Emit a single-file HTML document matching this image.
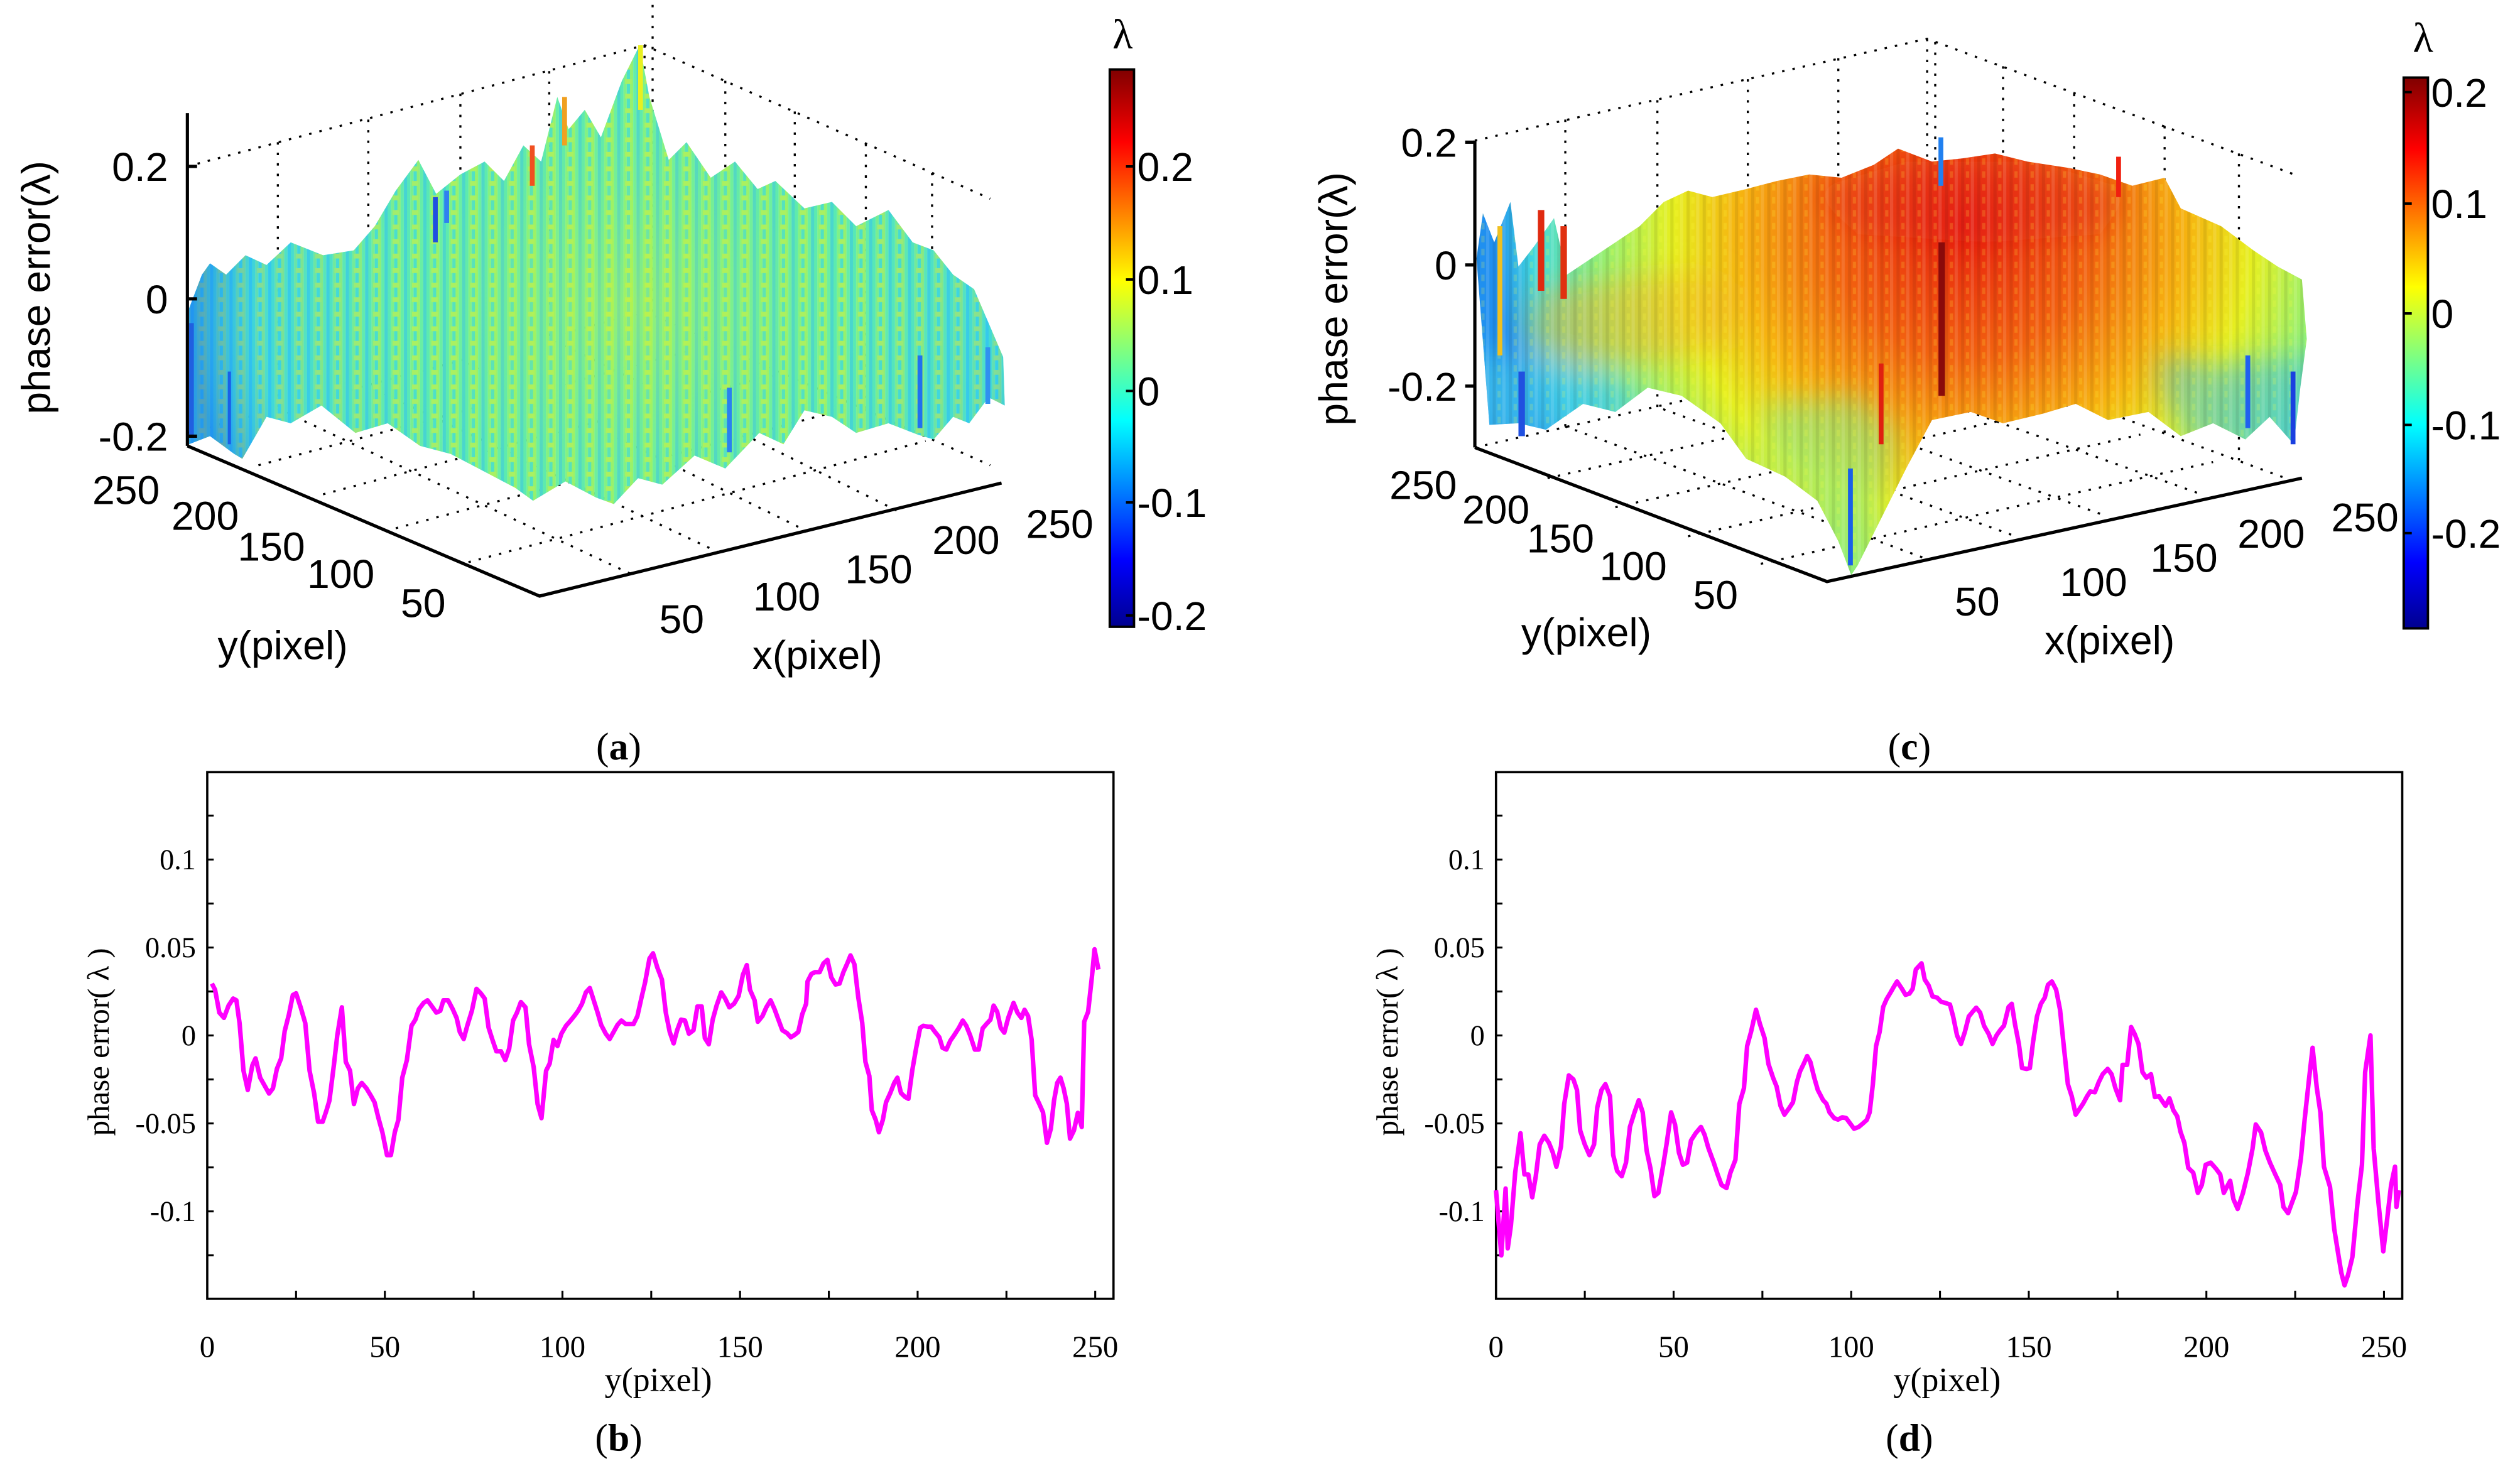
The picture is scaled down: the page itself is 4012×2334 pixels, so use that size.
<!DOCTYPE html>
<html><head><meta charset="utf-8">
<style>
html,body{margin:0;padding:0;background:#fff;}
svg{display:block;}
.sans{font-family:"Liberation Sans",sans-serif;}
.serif{font-family:"Liberation Serif",serif;}
</style></head>
<body>
<svg id="fig" width="4012" height="2334" viewBox="0 0 1560 907.5" xmlns="http://www.w3.org/2000/svg">
<defs>
  <linearGradient id="jet" x1="0" y1="1" x2="0" y2="0">
    <stop offset="0" stop-color="#00008f"/>
    <stop offset="0.12" stop-color="#0000ff"/>
    <stop offset="0.37" stop-color="#00ffff"/>
    <stop offset="0.62" stop-color="#ffff00"/>
    <stop offset="0.87" stop-color="#ff0000"/>
    <stop offset="1" stop-color="#800000"/>
  </linearGradient>
  <pattern id="stripesA" width="12" height="9" patternUnits="userSpaceOnUse">
    <rect x="0" y="0" width="2" height="9" fill="#4fe6c4"/>
    <rect x="2" y="0" width="2" height="9" fill="#86f283"/>
    <rect x="4" y="0" width="2" height="9" fill="#3cd8e4"/>
    <rect x="6" y="0" width="2" height="9" fill="#a9f25c"/>
    <rect x="8" y="0" width="2" height="9" fill="#62eeb0"/>
    <rect x="10" y="0" width="2" height="9" fill="#35c8ee"/>
    <rect x="3" y="4" width="4" height="3" fill="#c8f04a"/>
  </pattern>
  <radialGradient id="radA" gradientUnits="userSpaceOnUse" cx="390" cy="190" r="270">
    <stop offset="0" stop-color="#b4f24c" stop-opacity="0.6"/>
    <stop offset="0.5" stop-color="#70f090" stop-opacity="0.35"/>
    <stop offset="0.85" stop-color="#30c8f0" stop-opacity="0.45"/>
    <stop offset="1" stop-color="#1a80f0" stop-opacity="0.7"/>
  </radialGradient>
  <radialGradient id="radC" gradientUnits="userSpaceOnUse" cx="1215" cy="140" r="290">
    <stop offset="0" stop-color="#e8200e"/>
    <stop offset="0.28" stop-color="#f2620f"/>
    <stop offset="0.48" stop-color="#f6b410"/>
    <stop offset="0.62" stop-color="#e6ef20"/>
    <stop offset="0.78" stop-color="#8ef07a"/>
    <stop offset="0.92" stop-color="#40d8e0"/>
    <stop offset="1" stop-color="#2090f0"/>
  </radialGradient>
  <pattern id="stripesC" width="10" height="8" patternUnits="userSpaceOnUse">
    <rect x="0" y="0" width="2" height="8" fill="#ffffff" opacity="0.12"/>
    <rect x="4" y="0" width="2" height="8" fill="#000000" opacity="0.08"/>
    <rect x="7" y="2" width="2" height="4" fill="#ffff40" opacity="0.18"/>
  </pattern>
  <clipPath id="clipC">
    <polygon points="914,160 918,132 925,150 935,125 940,165 950,152 962,135 970,170 985,160 1000,150 1015,140 1030,125 1045,118 1060,122 1081,117 1100,112 1120,108 1140,110 1160,102 1175,92 1196,100 1215,98 1235,95 1255,100 1281,104 1300,108 1320,115 1340,110 1350,129 1375,140 1395,155 1410,165 1425,173 1428,210 1424,240 1420,275 1405,258 1390,272 1370,262 1350,270 1330,255 1305,260 1285,250 1265,256 1240,262 1220,255 1196,260 1180,290 1165,320 1150,350 1146,356 1138,335 1125,310 1105,295 1081,284 1065,262 1041,245 1020,240 1000,255 980,250 957,266 940,262 922,263"/>
  </clipPath>
  <filter id="blurC" x="-20%" y="-20%" width="140%" height="140%"><feGaussianBlur stdDeviation="9"/></filter>
</defs>

<!-- ===== Panel (a) ===== -->
<g id="panel-a">
  <g stroke="#000" stroke-width="1.3" stroke-dasharray="1.5,5" fill="none">
    <polyline points="116,103 399,28 613,123"/>
    <polyline points="116,268 399,193 613,288"/>
    <line x1="172" y1="88" x2="172" y2="253"/><line x1="228" y1="74" x2="228" y2="239"/>
    <line x1="285" y1="58" x2="285" y2="223"/><line x1="340" y1="44" x2="340" y2="209"/>
    <line x1="399" y1="28" x2="399" y2="193"/><line x1="404" y1="3" x2="404" y2="193"/>
    <line x1="449" y1="50" x2="449" y2="215"/><line x1="492" y1="69" x2="492" y2="234"/>
    <line x1="536" y1="89" x2="536" y2="254"/><line x1="577" y1="107" x2="577" y2="272"/>
    <line x1="160" y1="288" x2="443" y2="213"/><line x1="200" y1="306" x2="483" y2="231"/>
    <line x1="245" y1="327" x2="528" y2="252"/><line x1="290" y1="348" x2="573" y2="273"/>
    <line x1="390" y1="355" x2="172" y2="253"/><line x1="445" y1="342" x2="228" y2="239"/>
    <line x1="500" y1="329" x2="285" y2="223"/><line x1="555" y1="316" x2="340" y2="209"/>
  </g>
  <polygon fill="url(#stripesA)" points="117,191 125,170 130,163 140,170 152,158 165,164 180,150 200,158 219,155 232,140 245,118 259,99 270,120 285,108 300,100 312,112 324,90 335,100 345,60 352,80 362,68 372,85 385,50 396,28 402,60 414,99 425,88 440,110 455,100 469,117 480,112 498,129 515,125 530,140 550,130 565,150 578,155 590,170 603,179 612,200 621,221 622,251 612,246 600,262 590,258 578,272 568,269 550,262 530,268 515,258 498,254 485,275 470,268 449,290 430,282 410,300 395,296 380,312 369,308 350,298 330,310 319,302 300,292 279,281 260,276 240,262 220,268 199,251 180,262 165,258 150,284 145,281 130,270 117,275"/>
  <polygon fill="url(#radA)" points="117,191 125,170 130,163 140,170 152,158 165,164 180,150 200,158 219,155 232,140 245,118 259,99 270,120 285,108 300,100 312,112 324,90 335,100 345,60 352,80 362,68 372,85 385,50 396,28 402,60 414,99 425,88 440,110 455,100 469,117 480,112 498,129 515,125 530,140 550,130 565,150 578,155 590,170 603,179 612,200 621,221 622,251 612,246 600,262 590,258 578,272 568,269 550,262 530,268 515,258 498,254 485,275 470,268 449,290 430,282 410,300 395,296 380,312 369,308 350,298 330,310 319,302 300,292 279,281 260,276 240,262 220,268 199,251 180,262 165,258 150,284 145,281 130,270 117,275"/>
  <g>
    <rect x="395" y="28" width="3" height="40" fill="#e8f020"/>
    <rect x="348" y="60" width="3" height="30" fill="#f0a020"/>
    <rect x="328" y="90" width="3" height="25" fill="#f05020"/>
    <rect x="268" y="122" width="3" height="28" fill="#2050e0"/>
    <rect x="275" y="118" width="3" height="20" fill="#3080f0"/>
    <rect x="117" y="200" width="3" height="70" fill="#2060e0"/>
    <rect x="141" y="230" width="2" height="45" fill="#1a60e8"/>
    <rect x="568" y="220" width="3" height="45" fill="#2070f0"/>
    <rect x="450" y="240" width="3" height="40" fill="#2a80f0"/>
    <rect x="610" y="215" width="3" height="35" fill="#3090f0"/>
  </g>
  <g stroke="#000" stroke-width="2" fill="none">
    <line x1="116" y1="70" x2="116" y2="276"/>
    <polyline points="116,276 334,369 620,299"/>
    <line x1="116" y1="103" x2="122" y2="103"/><line x1="116" y1="185" x2="122" y2="185"/><line x1="116" y1="270" x2="122" y2="270"/>
  </g>
  <g class="sans" font-size="25" fill="#000">
    <text x="104" y="112" text-anchor="end">0.2</text>
    <text x="104" y="194" text-anchor="end">0</text>
    <text x="104" y="279" text-anchor="end">-0.2</text>
    <text transform="translate(31,178) rotate(-90)" text-anchor="middle">phase error(λ)</text>
    <text x="78" y="312" text-anchor="middle">250</text>
    <text x="127" y="328" text-anchor="middle">200</text>
    <text x="168" y="347" text-anchor="middle">150</text>
    <text x="211" y="364" text-anchor="middle">100</text>
    <text x="262" y="382" text-anchor="middle">50</text>
    <text x="175" y="408" text-anchor="middle">y(pixel)</text>
    <text x="422" y="392" text-anchor="middle">50</text>
    <text x="487" y="378" text-anchor="middle">100</text>
    <text x="544" y="361" text-anchor="middle">150</text>
    <text x="598" y="343" text-anchor="middle">200</text>
    <text x="656" y="333" text-anchor="middle">250</text>
    <text x="506" y="414" text-anchor="middle">x(pixel)</text>
  </g>
  <g>
    <rect x="687" y="43" width="15" height="345" fill="url(#jet)" stroke="#000" stroke-width="1.5"/>
    <g stroke="#000" stroke-width="1.5">
      <line x1="697" y1="103" x2="702" y2="103"/><line x1="697" y1="173" x2="702" y2="173"/>
      <line x1="697" y1="242" x2="702" y2="242"/><line x1="697" y1="311" x2="702" y2="311"/><line x1="697" y1="381" x2="702" y2="381"/>
    </g>
    <g class="sans" font-size="25">
      <text x="704" y="112">0.2</text><text x="704" y="182">0.1</text><text x="704" y="251">0</text>
      <text x="704" y="320">-0.1</text><text x="704" y="390">-0.2</text>
    </g>
    <text x="695" y="30" class="serif" font-size="26" text-anchor="middle">λ</text>
  </g>
  <text x="383" y="470" class="serif" font-size="24" text-anchor="middle">(<tspan font-weight="bold">a</tspan>)</text>
</g>

<!-- ===== Panel (c) ===== -->
<g id="panel-c">
  <g stroke="#000" stroke-width="1.3" stroke-dasharray="1.5,5" fill="none">
    <polyline points="913,87 1193,24 1423,109"/>
    <polyline points="913,277 1193,214 1423,299"/>
    <line x1="969" y1="74" x2="969" y2="264"/><line x1="1026" y1="62" x2="1026" y2="252"/>
    <line x1="1082" y1="49" x2="1082" y2="239"/><line x1="1138" y1="36" x2="1138" y2="226"/>
    <line x1="1193" y1="24" x2="1193" y2="214"/><line x1="1198" y1="26" x2="1198" y2="216"/>
    <line x1="1240" y1="41" x2="1240" y2="231"/><line x1="1284" y1="58" x2="1284" y2="248"/>
    <line x1="1340" y1="78" x2="1340" y2="268"/><line x1="1386" y1="95" x2="1386" y2="285"/>
    <line x1="958" y1="296" x2="1238" y2="233"/><line x1="1000" y1="314" x2="1280" y2="251"/>
    <line x1="1045" y1="332" x2="1325" y2="269"/><line x1="1090" y1="349" x2="1370" y2="286"/>
    <line x1="1190" y1="345" x2="969" y2="264"/><line x1="1245" y1="331" x2="1026" y2="252"/>
    <line x1="1300" y1="318" x2="1082" y2="239"/><line x1="1360" y1="305" x2="1138" y2="226"/>
  </g>
  <polygon fill="url(#radC)" points="914,160 918,132 925,150 935,125 940,165 950,152 962,135 970,170 985,160 1000,150 1015,140 1030,125 1045,118 1060,122 1081,117 1100,112 1120,108 1140,110 1160,102 1175,92 1196,100 1215,98 1235,95 1255,100 1281,104 1300,108 1320,115 1340,110 1350,129 1375,140 1395,155 1410,165 1425,173 1428,210 1424,240 1420,275 1405,258 1390,272 1370,262 1350,270 1330,255 1305,260 1285,250 1265,256 1240,262 1220,255 1196,260 1180,290 1165,320 1150,350 1146,356 1138,335 1125,310 1105,295 1081,284 1065,262 1041,245 1020,240 1000,255 980,250 957,266 940,262 922,263"/>
  <g clip-path="url(#clipC)">
    <g filter="url(#blurC)">
      <polygon fill="#f4b020" opacity="0.5" points="950,180 1000,172 1050,168 1080,180 1070,215 1020,225 970,228 945,215"/>
      <polygon fill="#40c8e8" opacity="0.65" points="905,215 960,225 1000,235 1020,250 990,265 960,275 920,275 905,250"/>
      <polygon fill="#30b8f0" opacity="0.5" points="1335,220 1370,225 1435,220 1435,280 1390,280 1350,270 1340,245"/>
      <polygon fill="#80e890" opacity="0.55" points="1090,250 1150,245 1175,270 1160,320 1146,360 1120,305 1095,285"/>
      <polygon fill="#e01a10" opacity="0.35" points="1120,118 1180,100 1260,100 1320,118 1300,145 1230,150 1150,145"/>
    </g>
    <polygon fill="url(#stripesC)" points="900,80 1440,80 1440,370 900,370"/>
  </g>
  <g>
    <rect x="1200" y="150" width="4" height="95" fill="#8a0a0a"/>
    <rect x="952" y="130" width="4" height="50" fill="#e02a10"/>
    <rect x="966" y="140" width="4" height="45" fill="#e03010"/>
    <rect x="927" y="140" width="3" height="80" fill="#f0c020"/>
    <rect x="1200" y="85" width="3" height="30" fill="#2080f0"/>
    <rect x="1163" y="225" width="3" height="50" fill="#e02010"/>
    <rect x="1144" y="290" width="3" height="60" fill="#1a60e8"/>
    <rect x="1418" y="230" width="3" height="45" fill="#1a40e0"/>
    <rect x="1390" y="220" width="3" height="45" fill="#2060f0"/>
    <rect x="1310" y="97" width="3" height="25" fill="#f02010"/>
    <rect x="940" y="230" width="4" height="40" fill="#2050e0"/>
  </g>
  <g stroke="#000" stroke-width="2" fill="none">
    <line x1="913" y1="87" x2="913" y2="277"/>
    <polyline points="913,277 1131,360 1425,296"/>
    <line x1="907" y1="88" x2="913" y2="88"/><line x1="907" y1="164" x2="913" y2="164"/><line x1="907" y1="239" x2="913" y2="239"/>
  </g>
  <g class="sans" font-size="25" fill="#000">
    <text x="902" y="97" text-anchor="end">0.2</text>
    <text x="902" y="173" text-anchor="end">0</text>
    <text x="902" y="248" text-anchor="end">-0.2</text>
    <text transform="translate(834,185) rotate(-90)" text-anchor="middle">phase error(λ)</text>
    <text x="881" y="309" text-anchor="middle">250</text>
    <text x="926" y="324" text-anchor="middle">200</text>
    <text x="966" y="342" text-anchor="middle">150</text>
    <text x="1011" y="359" text-anchor="middle">100</text>
    <text x="1062" y="377" text-anchor="middle">50</text>
    <text x="982" y="400" text-anchor="middle">y(pixel)</text>
    <text x="1224" y="381" text-anchor="middle">50</text>
    <text x="1296" y="369" text-anchor="middle">100</text>
    <text x="1352" y="354" text-anchor="middle">150</text>
    <text x="1406" y="339" text-anchor="middle">200</text>
    <text x="1464" y="329" text-anchor="middle">250</text>
    <text x="1306" y="405" text-anchor="middle">x(pixel)</text>
  </g>
  <g>
    <rect x="1488" y="48" width="15" height="341" fill="url(#jet)" stroke="#000" stroke-width="1.5"/>
    <g stroke="#000" stroke-width="1.5">
      <line x1="1488" y1="57" x2="1493" y2="57"/><line x1="1488" y1="126" x2="1493" y2="126"/>
      <line x1="1488" y1="194" x2="1493" y2="194"/><line x1="1488" y1="263" x2="1493" y2="263"/><line x1="1488" y1="330" x2="1493" y2="330"/>
    </g>
    <g class="sans" font-size="25">
      <text x="1505" y="66">0.2</text><text x="1505" y="135">0.1</text><text x="1505" y="203">0</text>
      <text x="1505" y="272">-0.1</text><text x="1505" y="339">-0.2</text>
    </g>
    <text x="1500" y="32" class="serif" font-size="26" text-anchor="middle">λ</text>
  </g>
  <text x="1182" y="470" class="serif" font-size="24" text-anchor="middle">(<tspan font-weight="bold">c</tspan>)</text>
</g>

<g id="chart-b"></g>
<g id="chart-d"></g>
<text x="383" y="898" class="serif" font-size="24" text-anchor="middle">(<tspan font-weight="bold">b</tspan>)</text>
<text x="1182" y="898" class="serif" font-size="24" text-anchor="middle">(<tspan font-weight="bold">d</tspan>)</text>
</svg>

<script>
var xTicks = [0, 50, 100, 150, 200, 250];
var xTickLabels = ["0", "50", "100", "150", "200", "250"];
var yTicks = [0.1, 0.05, 0, -0.05, -0.1];
var yTickLabels = ["0.1", "0.05", "0", "-0.05", "-0.1"];

var seriesBx = [1.3,2.2,3.4,4.7,6.0,7.3,8.2,9.1,10.2,11.4,12.7,13.6,14.9,17.4,18.5,19.6,20.8,21.8,23.0,24.1,25.0,26.3,27.6,28.8,30.1,31.2,32.5,33.5,34.4,35.7,36.6,37.9,39.0,40.2,41.3,42.4,43.5,44.8,46.0,47.1,48.2,49.3,50.6,51.7,52.8,53.8,54.9,56.2,57.5,58.6,59.6,60.9,62.0,63.1,64.5,65.6,66.5,67.8,69.1,70.2,71.1,72.2,73.2,74.5,75.8,77.0,78.1,79.2,80.3,81.4,82.7,83.9,85.0,86.1,87.2,88.3,89.6,90.6,91.9,93.0,94.1,95.4,96.4,97.5,98.6,99.7,101.0,102.1,103.3,104.4,105.5,106.6,107.7,108.8,109.9,110.9,112.2,113.3,114.4,115.5,116.6,117.8,118.9,120.0,121.1,122.2,123.3,124.5,125.5,126.7,128.0,129.1,130.2,131.3,132.3,133.4,134.5,135.6,136.9,138.0,139.2,140.1,141.2,142.3,143.4,144.7,145.8,147.0,148.3,149.6,150.8,151.9,152.8,154.1,155.0,156.3,157.4,158.6,159.7,160.8,161.9,163.2,164.3,165.3,166.4,167.5,168.6,169.0,170.1,171.1,172.4,173.5,174.6,175.7,176.9,178.0,179.1,180.2,181.1,182.2,183.3,184.4,185.3,186.4,187.1,188.2,189.1,190.2,191.1,192.3,193.4,194.3,195.3,196.5,197.4,198.5,199.6,200.7,201.6,202.9,203.8,204.9,206.1,207.0,208.1,209.2,210.3,211.6,212.7,213.7,214.8,216.1,217.2,218.3,219.4,220.5,221.4,222.4,223.4,224.4,225.5,227.0,228.1,229.2,230.1,231.1,232.1,233.1,234.2,235.3,236.4,237.5,238.4,239.3,240.2,241.1,242.0,242.9,244.0,245.1,246.2,246.9,248.0,249.1,249.8,250.9];
var seriesBy = [0.0295,0.026,0.013,0.010,0.017,0.021,0.020,0.007,-0.020,-0.031,-0.017,-0.013,-0.024,-0.033,-0.030,-0.019,-0.013,0.0025,0.012,0.023,0.024,0.016,0.007,-0.020,-0.033,-0.049,-0.049,-0.043,-0.037,-0.016,0,0.016,-0.015,-0.020,-0.039,-0.030,-0.027,-0.030,-0.034,-0.038,-0.047,-0.055,-0.068,-0.068,-0.055,-0.048,-0.024,-0.014,0.0055,0.009,0.015,0.0185,0.020,0.017,0.013,0.014,0.020,0.020,0.015,0.010,0.002,-0.002,0.0055,0.014,0.0265,0.024,0.021,0.0045,-0.0025,-0.009,-0.009,-0.014,-0.0075,0.0085,0.013,0.019,0.016,-0.005,-0.018,-0.039,-0.047,-0.020,-0.016,-0.0025,-0.006,0.001,0.0055,0.008,0.011,0.014,0.018,0.0245,0.027,0.020,0.013,0.006,0.001,-0.002,0.002,0.006,0.0085,0.0065,0.0065,0.0065,0.011,0.021,0.0305,0.0437,0.0467,0.0387,0.0318,0.013,0.002,-0.0045,0.003,0.009,0.0085,0.001,0.003,0.0165,0.0165,-0.0015,-0.005,0.009,0.017,0.0245,0.021,0.016,0.018,0.0225,0.0345,0.040,0.026,0.020,0.0078,0.011,0.016,0.020,0.015,0.009,0.003,0.0014,-0.001,0.0002,0.002,0.012,0.018,0.0307,0.035,0.036,0.036,0.041,0.043,0.033,0.029,0.0295,0.036,0.041,0.0455,0.0405,0.0215,0.0073,-0.015,-0.023,-0.0425,-0.048,-0.055,-0.048,-0.038,-0.0327,-0.027,-0.024,-0.0327,-0.035,-0.036,-0.0197,-0.007,0.0043,0.0055,0.005,0.005,0.002,-0.001,-0.007,-0.008,-0.003,0.0002,0.0043,0.0085,0.0055,0,-0.008,-0.008,0.004,0.0066,0.009,0.017,0.0135,0.0043,0.0016,0.010,0.0185,0.013,0.010,0.0146,0.011,-0.0025,-0.034,-0.0387,-0.0437,-0.061,-0.053,-0.037,-0.027,-0.024,-0.030,-0.0387,-0.0586,-0.054,-0.044,-0.052,0.0078,0.0135,0.034,0.049,0.0375];

var seriesDx = [0,1.5,2.7,3.3,4.2,5.4,6.9,8.0,9.1,10.2,11.2,12.3,13.6,14.9,16.0,17.0,18.3,19.2,20.5,21.8,22.8,23.7,25.0,26.3,27.6,28.5,29.7,30.8,32.1,33.0,34.1,35.4,36.6,37.7,39.0,40.2,41.3,42.4,43.5,44.6,45.7,47.0,48.0,49.3,50.4,51.5,52.6,53.8,54.9,56.2,57.7,58.7,59.8,61.3,62.4,63.5,64.9,66.0,67.4,68.5,69.8,70.7,71.8,73.2,74.3,75.6,76.7,78.0,79.0,80.1,81.2,82.5,83.6,84.7,85.6,86.7,87.6,88.5,89.6,90.6,92.1,93.0,93.9,95.2,96.3,97.5,98.6,99.7,100.8,102.1,103.3,104.4,105.2,106.1,107.0,108.0,109.0,110.0,111.1,112.0,112.9,114.2,115.3,116.4,117.3,118.2,119.8,120.7,121.8,122.9,124.2,125.3,126.5,127.8,128.7,129.8,130.9,132.0,133.1,134.2,135.2,136.3,137.4,138.7,139.8,140.9,142.0,143.0,144.3,145.2,146.1,147.2,148.1,149.4,150.3,151.2,152.3,153.4,154.5,155.4,156.5,157.7,158.8,159.9,161.0,162.1,163.2,164.2,165.3,166.4,167.3,168.6,169.7,170.8,172.2,173.3,174.4,175.7,176.4,177.7,178.8,179.8,180.9,182.0,183.1,184.4,185.5,186.7,187.8,188.5,189.6,190.7,191.8,192.7,193.8,194.9,196.3,197.6,198.7,199.8,201.2,202.7,203.9,204.9,205.8,206.7,207.6,208.8,210.3,211.7,213.0,213.9,215.4,216.6,217.9,219.4,220.8,221.7,223.0,224.1,225.2,226.6,227.7,228.8,229.9,231.1,232.1,233.1,234.8,236.0,237.1,238.0,238.9,239.9,241.1,242.6,243.8,244.7,246.2,247.1,248.4,249.8,250.9,252.0,253.1,253.5,254.2];
var seriesDy = [-0.088,-0.125,-0.087,-0.121,-0.108,-0.078,-0.0556,-0.079,-0.079,-0.092,-0.080,-0.062,-0.057,-0.061,-0.0666,-0.0746,-0.063,-0.039,-0.0227,-0.025,-0.031,-0.054,-0.062,-0.068,-0.062,-0.041,-0.031,-0.0277,-0.0346,-0.068,-0.077,-0.080,-0.0723,-0.052,-0.0437,-0.0368,-0.0437,-0.0654,-0.0757,-0.0913,-0.0895,-0.0746,-0.062,-0.0437,-0.0506,-0.0666,-0.0735,-0.0723,-0.0597,-0.0556,-0.052,-0.0563,-0.064,-0.0723,-0.079,-0.085,-0.0867,-0.078,-0.0707,-0.039,-0.030,-0.006,0.002,0.0146,0.0066,-0.0014,-0.0162,-0.024,-0.029,-0.040,-0.045,-0.0414,-0.038,-0.0265,-0.0204,-0.0158,-0.0117,-0.015,-0.024,-0.031,-0.0368,-0.0387,-0.0437,-0.047,-0.0478,-0.0465,-0.047,-0.050,-0.053,-0.052,-0.050,-0.048,-0.0437,-0.0277,-0.006,0.002,0.0162,0.0208,0.0245,0.0277,0.0307,0.0268,0.0231,0.0238,0.0265,0.0375,0.041,0.0318,0.0284,0.0222,0.0215,0.0192,0.0185,0.0176,0.0108,0,-0.0048,0.002,0.0108,0.0135,0.0158,0.013,0.0055,0.0009,-0.0048,0,0.0032,0.0055,0.0162,0.018,0.0066,-0.0048,-0.0185,-0.019,-0.0185,-0.0037,0.0108,0.018,0.0215,0.0288,0.0307,0.026,0.0146,-0.007,-0.0277,-0.0346,-0.045,-0.042,-0.0387,-0.0346,-0.0318,-0.0323,-0.0265,-0.022,-0.019,-0.022,-0.030,-0.0368,-0.0167,-0.0167,0.0048,0.0009,-0.0048,-0.0208,-0.024,-0.022,-0.035,-0.0346,-0.038,-0.040,-0.0357,-0.0425,-0.046,-0.0547,-0.061,-0.0753,-0.078,-0.0895,-0.085,-0.0735,-0.0723,-0.0757,-0.079,-0.0895,-0.086,-0.0826,-0.093,-0.0986,-0.0895,-0.078,-0.0643,-0.0506,-0.0552,-0.0654,-0.0723,-0.079,-0.085,-0.0975,-0.101,-0.095,-0.089,-0.070,-0.047,-0.0265,-0.007,-0.030,-0.0437,-0.0746,-0.086,-0.110,-0.124,-0.135,-0.142,-0.136,-0.126,-0.094,-0.0735,-0.0208,0,-0.0643,-0.094,-0.1227,-0.1043,-0.085,-0.0746,-0.0975,-0.088];

var NS = "http://www.w3.org/2000/svg";
function mk(tag, parent) { var e = document.createElementNS(NS, tag); parent.appendChild(e); return e; }

function drawChart(gid, left, xs, ys, key) {
  var g = document.getElementById(gid);
  var top = 478, bottom = 804, width = 561, pxPerX = 549.7 / 250;
  var zeroY = 641, pxPerY = 1089;
  function sx(v) { return left + v * pxPerX; }
  function sy(v) { return zeroY - v * pxPerY; }
  var frame = mk('rect', g);
  
  
  frame.setAttribute('x', left); frame.setAttribute('y', top);
  frame.setAttribute('width', width); frame.setAttribute('height', bottom - top);
  frame.setAttribute('fill', 'none'); frame.setAttribute('stroke', '#000'); frame.setAttribute('stroke-width', '1.4');
  for (var v = -0.125; v <= 0.1251; v += 0.025) {
    var t = mk('line', g);
    
    
    t.setAttribute('x1', left); t.setAttribute('x2', left + 4);
    t.setAttribute('y1', sy(v)); t.setAttribute('y2', sy(v));
    t.setAttribute('stroke', '#000'); t.setAttribute('stroke-width', '1.2');
  }
  for (var u = 25; u < 255; u += 25) {
    var t2 = mk('line', g);
    
    
    t2.setAttribute('x1', sx(u)); t2.setAttribute('x2', sx(u));
    t2.setAttribute('y1', bottom); t2.setAttribute('y2', bottom - 5);
    t2.setAttribute('stroke', '#000'); t2.setAttribute('stroke-width', '1.2');
  }
  for (var i = 0; i < yTicks.length; i++) {
    var tl = mk('text', g);
    
    
    tl.setAttribute('x', left - 7); tl.setAttribute('y', sy(yTicks[i]) + 6);
    tl.setAttribute('text-anchor', 'end'); tl.setAttribute('class', 'serif'); tl.setAttribute('font-size', '18');
    tl.textContent = yTickLabels[i];
  }
  for (var j = 0; j < xTicks.length; j++) {
    var xl = mk('text', g);
    
    
    xl.setAttribute('x', sx(xTicks[j])); xl.setAttribute('y', 840);
    xl.setAttribute('text-anchor', 'middle'); xl.setAttribute('class', 'serif'); xl.setAttribute('font-size', '19');
    xl.textContent = xTickLabels[j];
  }
  var xt = mk('text', g);
  
  
  xt.setAttribute('x', sx(127)); xt.setAttribute('y', 861);
  xt.setAttribute('text-anchor', 'middle'); xt.setAttribute('class', 'serif'); xt.setAttribute('font-size', '21');
  xt.textContent = 'y(pixel)';
  var yt = mk('text', g);
  
  
  yt.setAttribute('transform', 'translate(' + (left - 61) + ',645) rotate(-90)');
  yt.setAttribute('text-anchor', 'middle'); yt.setAttribute('class', 'serif'); yt.setAttribute('font-size', '19');
  yt.textContent = 'phase error( λ )';
  var pts = [];
  for (var k = 0; k < xs.length; k++) pts.push(sx(xs[k]).toFixed(2) + ',' + sy(ys[k]).toFixed(2));
  var line = mk('polyline', g);
  
  
  line.setAttribute('points', pts.join(' '));
  line.setAttribute('fill', 'none'); line.setAttribute('stroke', '#ff00ff');
  line.setAttribute('stroke-width', '2.8'); line.setAttribute('stroke-linejoin', 'round');
}
drawChart('chart-b', 128.3, seriesBx, seriesBy, 'panel-b');
drawChart('chart-d', 926.1, seriesDx, seriesDy, 'panel-d');
</script>
</body></html>
